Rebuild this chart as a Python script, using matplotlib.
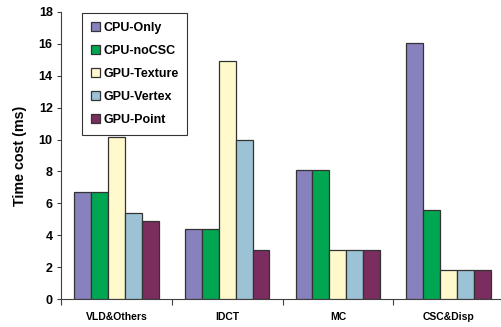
import matplotlib
matplotlib.use("Agg")
import matplotlib.pyplot as plt
import numpy as np

plt.rcParams['font.family'] = ['Liberation Sans', 'DejaVu Sans']
plt.rcParams['font.weight'] = 'bold'

categories = ["VLD&Others", "IDCT", "MC", "CSC&Disp"]
series_names = ["CPU-Only", "CPU-noCSC", "GPU-Texture", "GPU-Vertex", "GPU-Point"]
cpu_only = [6.7, 4.4, 8.07, 16.05]
cpu_nocsc = [6.7, 4.4, 8.07, 5.6]
gpu_texture = [10.18, 14.95, 3.1, 1.82]
gpu_vertex = [5.42, 9.95, 3.1, 1.82]
gpu_point = [4.92, 3.05, 3.1, 1.82]
colors = ["#8781BD", "#00A651", "#FFF9CC", "#9CC3D5", "#7A2D5E"]
yticks = [0, 2, 4, 6, 8, 10, 12, 14, 16, 18]

series = [cpu_only, cpu_nocsc, gpu_texture, gpu_vertex, gpu_point]

fig = plt.figure(figsize=(5.01, 3.27), dpi=100)
ax = fig.add_axes([61/501, 28/327, 443/501, 287/327])

x = np.arange(len(categories))
w = 0.153
for i, (vals, name, c) in enumerate(zip(series, series_names, colors)):
    ax.bar(x + (i - 2) * w, vals, width=w, color=c, edgecolor="#333333",
           linewidth=0.9, label=name, zorder=3)

ax.set_xlim(-0.5, 3.5)
ax.set_ylim(0, 18)
ax.set_yticks(yticks)
ax.set_yticklabels([str(t) for t in yticks], fontsize=9, fontweight='bold')
ax.set_xticks(np.arange(-0.5, 3.6, 1.0))
ax.set_xticklabels([])
ax.set_xticks(x, minor=True)
ax.set_xticklabels(categories, minor=True, fontsize=7.5, fontweight='bold')
ax.tick_params(axis='x', which='minor', length=0, pad=9)
ax.tick_params(axis='x', which='major', length=4, direction='out', color='#404040')
ax.tick_params(axis='y', length=3, direction='out', color='#404040', pad=3)

ax.spines['top'].set_visible(False)
ax.spines['right'].set_visible(False)
ax.spines['left'].set_color('#404040')
ax.spines['bottom'].set_color('#404040')

ax.set_ylabel("Time cost (ms)", fontsize=10.3, fontweight='bold', labelpad=8)

leg = ax.legend(loc='upper left', bbox_to_anchor=(21/443, 1 - 1/287),
                borderaxespad=0, fancybox=False, frameon=True,
                prop={'size': 9, 'weight': 'bold'},
                handlelength=0.7, handleheight=0.7, handletextpad=0.3,
                labelspacing=0.88, borderpad=0.7)
leg.get_frame().set_edgecolor('black')
leg.get_frame().set_linewidth(0.8)
leg.set_zorder(10)

fig.savefig("out.png", dpi=100)
